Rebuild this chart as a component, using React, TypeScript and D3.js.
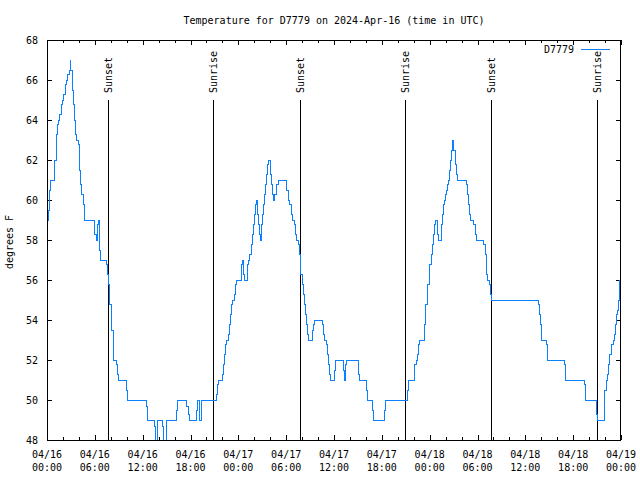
import React from "react";
import * as d3 from "d3";

const START_UTC = Date.UTC(2024, 3, 16, 0, 0);
const END_UTC = Date.UTC(2024, 3, 19, 0, 0);

const title = "Temperature for D7779 on 2024-Apr-16 (time in UTC)";
const seriesName = "D7779";
const yAxisLabel = "degrees F";
const yTickValues = [48, 50, 52, 54, 56, 58, 60, 62, 64, 66, 68];

// [hours since 2024-04-16 00:00 UTC, temperature °F]
const apr16Readings: [number, number][] = [
  [0.13, 59.0], [0.16, 59.5], [0.29, 60.5], [0.38, 61.0], [1.0, 62.0], [1.13, 63.3], [1.29, 63.8],
  [1.42, 64.0], [1.63, 64.3], [1.76, 64.8], [1.92, 65.0], [2.13, 65.3], [2.3, 65.8], [2.47, 66.0],
  [2.63, 66.3], [2.76, 66.5], [2.89, 67.0], [3.01, 66.5], [3.14, 65.5], [3.3, 64.8], [3.42, 64.0],
  [3.55, 63.3], [3.73, 63.0], [3.98, 62.8], [4.05, 61.5], [4.23, 60.8], [4.39, 60.3], [4.55, 59.8],
  [4.68, 59.0], [6.02, 58.3], [6.23, 58.0], [6.31, 58.8], [6.44, 59.0], [6.56, 57.5], [6.65, 57.0],
  [7.49, 56.8], [7.56, 56.3], [7.69, 55.8], [7.78, 55.3], [7.9, 54.8], [8.03, 54.3], [8.15, 53.5],
  [8.28, 52.5], [8.4, 52.0], [8.66, 51.8], [8.82, 51.3], [8.91, 51.0], [10.0, 50.5], [10.12, 50.0],
  [12.46, 49.7], [12.63, 49.0], [13.51, 48.7], [13.67, 48.0], [13.84, 48.7], [13.92, 49.0],
  [14.51, 48.7], [14.64, 48.0], [14.93, 48.5], [15.05, 49.0], [16.22, 49.5], [16.4, 50.0],
  [17.52, 49.7], [17.69, 49.3], [17.85, 49.0], [18.78, 49.5], [18.9, 50.0], [19.07, 49.5],
  [19.19, 49.0], [19.32, 49.5], [19.44, 50.0], [21.2, 50.3], [21.36, 50.8], [21.49, 51.0],
  [21.99, 51.3], [22.12, 51.8], [22.24, 52.3], [22.37, 52.8], [22.54, 53.0], [22.74, 53.3],
  [22.87, 53.8], [22.99, 54.3], [23.12, 54.8], [23.29, 55.0], [23.5, 55.3], [23.62, 55.8], [23.75, 56.0],
];

const apr17Readings: [number, number][] = [
  [24.34, 56.3], [24.42, 56.8], [24.5, 57.0], [24.62, 56.3], [24.75, 56.0], [25.13, 56.8], [25.3, 57.0],
  [25.46, 57.3], [25.63, 57.8], [25.75, 58.3], [25.88, 58.8], [26.0, 59.3], [26.13, 59.8], [26.26, 60.0],
  [26.38, 59.3], [26.56, 58.8], [26.68, 58.3], [26.76, 58.0], [26.88, 58.8], [27.01, 59.3], [27.13, 59.8],
  [27.26, 60.3], [27.43, 60.8], [27.56, 61.3], [27.68, 61.8], [27.81, 62.0], [28.06, 61.3], [28.19, 60.8],
  [28.31, 60.3], [28.44, 60.0], [28.56, 60.3], [28.73, 60.5], [28.85, 60.8], [28.98, 61.0], [30.07, 60.5],
  [30.23, 60.0], [30.48, 59.8], [30.61, 59.3], [30.77, 59.0], [31.02, 58.8], [31.15, 58.3], [31.32, 58.0],
  [31.52, 57.8], [31.65, 57.3], [31.74, 56.8], [31.86, 56.3], [32.03, 55.8], [32.15, 55.3], [32.28, 54.8],
  [32.4, 54.3], [32.53, 53.8], [32.65, 53.3], [32.78, 53.0], [33.28, 53.5], [33.41, 53.8], [33.53, 54.0],
  [34.58, 53.8], [34.71, 53.3], [34.87, 53.0], [35.04, 52.8], [35.16, 52.3], [35.29, 51.8], [35.41, 51.3],
  [35.5, 51.0], [36.04, 51.5], [36.16, 52.0], [37.17, 51.5], [37.29, 51.0], [37.42, 51.8], [37.54, 52.0],
  [39.1, 51.3], [39.23, 51.0], [40.05, 50.5], [40.18, 50.0], [40.81, 49.5], [40.93, 49.0], [42.31, 49.5],
  [42.44, 50.0], [45.25, 50.5], [45.37, 51.0], [46.04, 51.3], [46.13, 51.8], [46.29, 52.0], [46.45, 52.3],
  [46.63, 52.8], [46.75, 53.0], [47.29, 53.3], [47.38, 53.8], [47.45, 54.3], [47.54, 54.8], [47.67, 55.3],
  [47.79, 55.8], [47.92, 56.3],
];

const apr18Readings: [number, number][] = [
  [48.04, 56.8], [48.17, 57.3], [48.3, 57.8], [48.42, 58.3], [48.55, 58.8], [48.67, 59.0], [49.01, 58.3],
  [49.17, 58.0], [49.51, 58.8], [49.64, 59.3], [49.76, 59.8], [49.89, 60.0], [50.01, 60.3], [50.14, 60.5],
  [50.26, 60.8], [50.39, 61.0], [50.51, 61.5], [50.64, 62.0], [50.77, 62.5], [50.89, 63.0], [50.97, 62.8],
  [51.05, 62.5], [51.18, 61.8], [51.31, 61.3], [51.43, 61.0], [52.56, 60.8], [52.73, 60.3], [52.82, 59.8],
  [52.94, 59.3], [53.07, 59.0], [53.49, 58.8], [53.71, 58.3], [53.84, 58.0], [54.71, 57.8], [54.96, 57.3],
  [55.09, 56.8], [55.17, 56.3], [55.3, 56.0], [55.5, 55.8], [55.63, 55.3], [55.75, 55.0], [61.63, 54.8],
  [61.75, 54.3], [61.88, 53.8], [62.0, 53.0], [62.63, 52.8], [62.72, 52.3], [62.81, 52.0], [64.89, 51.8],
  [64.98, 51.3], [65.07, 51.0], [67.4, 50.8], [67.49, 50.3], [67.58, 50.0], [68.87, 49.8], [68.95, 49.3],
  [69.03, 49.0], [69.87, 49.5], [69.99, 50.5], [70.12, 51.0], [70.25, 51.3], [70.37, 51.8], [70.5, 52.0],
  [70.62, 52.3], [70.75, 52.5], [70.87, 52.8], [71.04, 53.0], [71.16, 53.3], [71.29, 53.8], [71.42, 54.3],
  [71.54, 54.5], [71.63, 55.0], [71.75, 55.5], [71.84, 56.0], [71.94, 56.0],
];

// hours since start
const sunsetHours = [7.62, 31.7, 55.75];
const sunriseHours = [20.82, 44.9, 69.0];

const FONT = "'DejaVu Sans Mono', monospace";
const LINE_COLOR = "#0a80ff";

export default function App() {
  const W = 640, H = 480;
  const left = 47, right = 621, top = 40, bottom = 440;
  const toDate = (h: number) => new Date(START_UTC + h * 3600e3);

  const x = d3.scaleUtc().domain([new Date(START_UTC), new Date(END_UTC)]).range([left, right]);
  const y = d3.scaleLinear().domain([48, 68]).range([bottom, top]);

  const readings = [...apr16Readings, ...apr17Readings, ...apr18Readings].map(([h, v]) => ({ t: toDate(h), v }));
  const line = d3
    .line<{ t: Date; v: number }>()
    .x((d) => x(d.t))
    .y((d) => y(d.v))
    .curve(d3.curveStepAfter);

  const majorTicks = x.ticks(d3.utcHour.every(6)!);
  const majorSet = new Set(majorTicks.map((d) => +d));
  const minorTicks = x.ticks(d3.utcHour.every(2)!).filter((d) => !majorSet.has(+d));
  const fmtDate = d3.utcFormat("%m/%d");
  const fmtTime = d3.utcFormat("%H:%M");

  const events = [
    ...sunsetHours.map((h) => ({ h, label: "Sunset" })),
    ...sunriseHours.map((h) => ({ h, label: "Sunrise" })),
  ];

  const px = (v: number) => Math.round(v) + 0.5;

  return (
    <svg
      width={W}
      height={H}
      style={{ position: "absolute", left: 0, top: 0, background: "#fff" }}
      fontFamily={FONT}
      fontSize={10}
    >
      <rect width={W} height={H} fill="#fff" />
      <defs>
        <clipPath id="plotClip">
          <rect x={left} y={top} width={right - left} height={bottom - top + 1} />
        </clipPath>
      </defs>

      <text x={(left + right) / 2} y={24} textAnchor="middle" fill="#000">
        {title}
      </text>

      {/* y ticks */}
      {yTickValues.map((v) => (
        <g key={"y" + v}>
          <line x1={left} x2={left + 5} y1={px(y(v))} y2={px(y(v))} stroke="#000" shapeRendering="crispEdges" />
          <line x1={right - 5} x2={right} y1={px(y(v))} y2={px(y(v))} stroke="#000" shapeRendering="crispEdges" />
          <text x={38} y={y(v) + 3.5} textAnchor="end" fill="#000">
            {v}
          </text>
        </g>
      ))}

      {/* x ticks */}
      {majorTicks.map((d) => (
        <g key={"xm" + +d}>
          <line x1={px(x(d))} x2={px(x(d))} y1={bottom} y2={bottom - 5} stroke="#000" shapeRendering="crispEdges" />
          <line x1={px(x(d))} x2={px(x(d))} y1={top} y2={top + 5} stroke="#000" shapeRendering="crispEdges" />
          <text x={x(d)} y={458} textAnchor="middle" fill="#000">
            {fmtDate(d)}
          </text>
          <text x={x(d)} y={471} textAnchor="middle" fill="#000">
            {fmtTime(d)}
          </text>
        </g>
      ))}
      {minorTicks.map((d) => (
        <g key={"xn" + +d}>
          <line x1={px(x(d))} x2={px(x(d))} y1={bottom} y2={bottom - 3} stroke="#000" shapeRendering="crispEdges" />
          <line x1={px(x(d))} x2={px(x(d))} y1={top} y2={top + 3} stroke="#000" shapeRendering="crispEdges" />
        </g>
      ))}

      <text transform={`translate(13, 242) rotate(-90)`} textAnchor="middle" fill="#000">
        {yAxisLabel}
      </text>

      {/* sunrise / sunset markers */}
      {events.map((e) => {
        const ex = px(x(toDate(e.h)));
        return (
          <g key={e.label + e.h}>
            <line x1={ex} x2={ex} y1={100} y2={bottom} stroke="#000" shapeRendering="crispEdges" />
            <text transform={`translate(${ex + 3.5}, 93) rotate(-90)`} textAnchor="start" fill="#000">
              {e.label}
            </text>
          </g>
        );
      })}

      {/* data line */}
      <path
        d={line(readings) || ""}
        fill="none"
        stroke={LINE_COLOR}
        strokeWidth={1}
        clipPath="url(#plotClip)"
        shapeRendering="crispEdges"
      />

      {/* legend */}
      <text x={574} y={53} textAnchor="end" fill="#000">
        {seriesName}
      </text>
      <line x1={581} x2={610} y1={49.5} y2={49.5} stroke={LINE_COLOR} shapeRendering="crispEdges" />

      {/* border */}
      <rect
        x={left + 0.5}
        y={top + 0.5}
        width={right - left - 1}
        height={bottom - top}
        fill="none"
        stroke="#000"
        shapeRendering="crispEdges"
      />
    </svg>
  );
}
